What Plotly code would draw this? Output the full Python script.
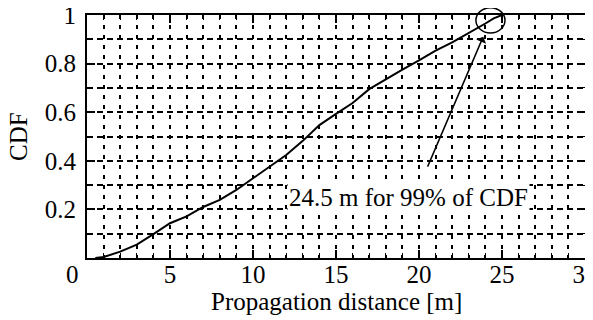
import plotly.graph_objects as go

# CDF curve
distance = [0.5, 1, 2, 3, 4, 5, 6, 7, 8, 9, 10, 11, 12, 13, 14, 15, 16, 17, 18, 19, 20, 21, 22, 23, 24, 24.5, 25]
cdf = [0.0, 0.004, 0.026, 0.055, 0.098, 0.143, 0.171, 0.21, 0.239, 0.28, 0.328, 0.376, 0.424, 0.482, 0.547,
       0.593, 0.638, 0.695, 0.736, 0.775, 0.813, 0.853, 0.887, 0.925, 0.965, 0.986, 1.0]

x_ticks = [5, 10, 15, 20, 25, 30]
y_ticks = [0.2, 0.4, 0.6, 0.8, 1.0]
y_tick_text = ["0.2", "0.4", "0.6", "0.8", "1"]

x_title = "Propagation distance [m]"
y_title = "CDF"
annotation_text = "24.5 m for 99% of CDF"
arrow_tip = (23.87, 0.911)
arrow_tail = (20.48, 0.370)
text_pos = (19.36, 0.251)
circle_box = (23.43, 25.18, 0.926, 1.03)  # x0, x1, y0, y1 in data units

X_MAX = 30
Y_MAX = 1

font = dict(family="Liberation Serif", size=25, color="black")

fig = go.Figure()
fig.add_trace(go.Scatter(x=distance, y=cdf, mode="lines",
                         line=dict(color="black", width=2), showlegend=False))

axis_common = dict(
    showline=True, linecolor="black", linewidth=2, mirror="ticks",
    ticks="inside", ticklen=8, tickwidth=1.5, tickcolor="black",
    showgrid=True, gridcolor="black", gridwidth=1.6,
    zeroline=False, tickfont=font, automargin=False, ticklabeloverflow="allow",
)

fig.update_xaxes(
    range=[0, X_MAX], tickvals=x_ticks, griddash="4px,6px",
    minor=dict(dtick=1, tick0=0, ticks="inside", ticklen=5, tickwidth=1.2, tickcolor="black",
               showgrid=True, gridcolor="black", gridwidth=1.6, griddash="4px,6px"),
    ticklabelstandoff=-7,
    **axis_common,
)
fig.update_yaxes(
    range=[0, Y_MAX], tickvals=y_ticks, ticktext=y_tick_text, griddash="6px,4px",
    minor=dict(dtick=0.1, tick0=0, ticks="inside", ticklen=5, tickwidth=1.2, tickcolor="black",
               showgrid=True, gridcolor="black", gridwidth=1.6, griddash="6px,4px"),
    ticklabelstandoff=4,
    **axis_common,
)

# axis titles
fig.add_annotation(x=0.5, y=-0.181, xref="paper", yref="paper", text=x_title, showarrow=False,
                   font=font, xanchor="center", yanchor="middle")
fig.add_annotation(x=-0.1376, y=0.5, xref="paper", yref="paper", text=y_title, showarrow=False,
                   font=font, xanchor="center", yanchor="middle", textangle=-90)

# shared origin label
fig.add_annotation(x=-0.03, y=-0.066, xref="paper", yref="paper", text="0", showarrow=False,
                   font=font, xanchor="center", yanchor="middle")

# arrow
fig.add_annotation(x=arrow_tip[0], y=arrow_tip[1], ax=arrow_tail[0], ay=arrow_tail[1],
                   xref="x", yref="y", axref="x", ayref="y", text="", showarrow=True,
                   arrowhead=1, arrowsize=1.2, arrowwidth=1.5, arrowcolor="black")

# label
fig.add_annotation(x=text_pos[0], y=text_pos[1], xref="x", yref="y", text=annotation_text,
                   showarrow=False, font=font, bgcolor="white", borderpad=1)

# circle (domain refs so it is not clipped at the top)
fig.add_shape(type="circle", xref="x domain", yref="y domain",
              x0=circle_box[0] / X_MAX, x1=circle_box[1] / X_MAX,
              y0=circle_box[2] / Y_MAX, y1=circle_box[3] / Y_MAX,
              line=dict(color="black", width=1.5))

# the page body has an 8px default margin, so the figure is 8px smaller and margins compensate
fig.update_layout(
    width=585, height=312,
    margin=dict(l=79, r=8, t=7, b=62),
    plot_bgcolor="white", paper_bgcolor="white",
    font=font,
)

fig.write_html("out.html")
